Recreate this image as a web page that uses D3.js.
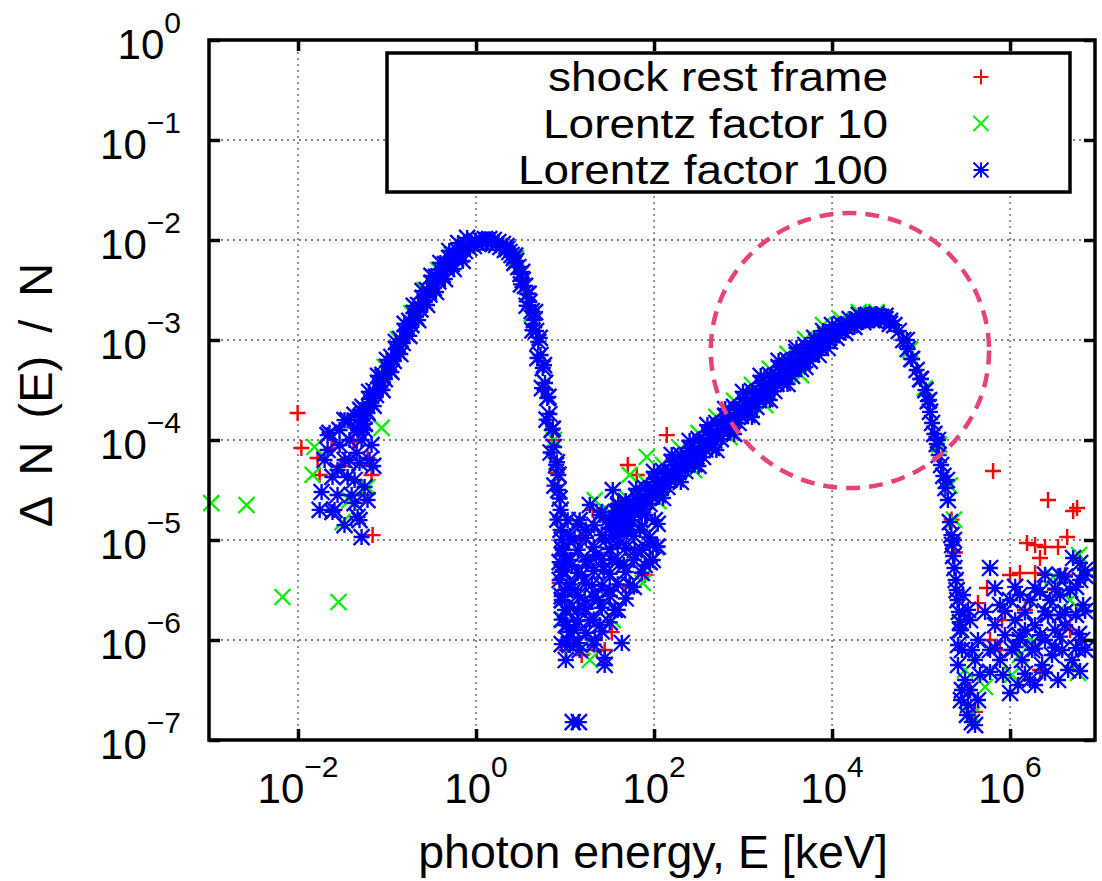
<!DOCTYPE html>
<html>
<head>
<meta charset="utf-8">
<script src="https://cdn.jsdelivr.net/npm/d3@7"></script>
<style>
  body { margin: 0; background: #fff; }
  svg { display: block; font-family: "Liberation Sans", Arial, Helvetica, sans-serif; }
</style>
</head>
<body>
<svg id="chart"></svg>
<script>
/* photon energy E [keV], Delta N(E)/N */

/* shock rest frame (red +) */
var shockRestFrame = [
  // low energy tail
  [9.9e-3, 1.86e-4], [1.09e-2, 8.32e-5], [1.66e-2, 6.61e-5], [1.75e-2, 4.47e-5], [2.38e-2, 8.32e-5],
  [3.0e-2, 5.5e-5], [4.2e-2, 9.5e-5], [5.5e-2, 2.8e-5], [6.04e-2, 6.61e-5], [6.70e-2, 4.47e-5],
  [6.89e-2, 1.12e-5],
  // thermal peak
  [8.5e-2, 3.2e-4], [0.19, 1.5e-3], [0.63, 6.9e-3], [3.3, 3.9e-3], [6.0, 3.2e-4], [7.3, 1.0e-4],
  [8.0, 4.7e-5], [9.3, 1.2e-5],
  // dip
  [139, 1.12e-4], [50.7, 5.62e-5], [64.0, 4.47e-5], [41.2, 2.40e-5], [20.5, 2.00e-5], [78.7, 4.47e-6],
  [53.3, 3.39e-6], [33.5, 1.20e-6], [10.4, 7.94e-7], [15.4, 7.08e-7], [22.7, 7.94e-7], [27.9, 7.94e-7],
  [8.71, 3.72e-6], [14.6, 1.07e-5],
  // Compton bump
  [200, 5.2e-5], [2000, 3.2e-4], [1.5e4, 1.25e-3], [2.2e5, 1.6e-5], [2.4e5, 7.5e-6],
  // high energy tail
  [6.44e5, 4.90e-5], [2.67e6, 2.51e-5], [5.11e6, 1.95e-5], [5.66e6, 2.09e-5], [4.38e6, 1.07e-5],
  [1.55e6, 9.33e-6], [1.91e6, 8.91e-6], [2.47e6, 8.51e-6], [3.46e6, 8.51e-6], [2.17e6, 6.61e-6],
  [1.00e6, 4.47e-6], [1.29e6, 4.68e-6], [1.91e6, 4.68e-6], [5.51e5, 3.31e-6], [4.36e5, 2.34e-6],
  [8.13e5, 1.58e-6], [5.96e5, 1.00e-6], [4.15e6, 4.47e-6], [3.21e6, 3.16e-6], [1.47e6, 2.00e-6],
  [4.72e6, 1.26e-6], [4.04e5, 1.91e-7], [3.37e5, 3.16e-7], [7.71e5, 7.94e-7], [2.17e6, 5.01e-7]
];

/* Lorentz factor 10 (green x) */
var lorentzFactor10 = [
  // low energy tail
  [1.06e-3, 2.34e-5], [2.64e-3, 2.24e-5], [6.70e-3, 2.69e-6], [2.85e-2, 2.40e-6], [1.53e-2, 8.51e-5],
  [1.46e-2, 4.47e-5], [3.16e-2, 1.51e-5], [6.04e-2, 3.39e-5], [8.69e-2, 1.32e-4], [3.79e-2, 2.51e-5],
  // thermal peak
  [9.44e-2, 5.37e-4], [0.133, 1.02e-3], [0.188, 1.86e-3], [0.266, 3.16e-3], [0.376, 5.01e-3],
  [0.531, 7.08e-3], [0.75, 8.91e-3], [2.82, 6.61e-3], [4.22, 1.82e-3], [5.96, 3.72e-4],
  [7.5, 1.0e-4], [8.41, 4.47e-5],
  // dip
  [21.6, 2.51e-5], [82.8, 6.76e-5], [53.3, 4.47e-5], [74.6, 3.72e-6], [34.4, 1.58e-6], [12.2, 8.51e-7],
  [19.0, 6.31e-7], [15.8, 8.51e-7], [41.2, 2.00e-5], [9.5, 1.6e-6],
  // Compton bump
  [31.6, 1.91e-5], [50.1, 2.63e-5], [79.4, 3.81e-5], [126, 5.64e-5], [200, 8.14e-5], [316, 1.17e-4],
  [501, 1.70e-4], [794, 2.46e-4], [1260, 3.55e-4], [2000, 5.14e-4], [3160, 7.26e-4], [5010, 1.02e-3],
  [7940, 1.41e-3], [1.26e4, 1.60e-3], [2.0e4, 1.90e-3], [3.16e4, 1.90e-3],
  [44.7, 1.17e-5], [112, 2.45e-5], [282, 5.0e-5], [708, 1.07e-4], [1780, 2.23e-4], [4470, 4.46e-4],
  [7.5e4, 8.0e-4], [1.1e5, 3.3e-4], [1.6e5, 9.0e-5], [2.1e5, 3.5e-5], [2.35e5, 1.6e-5],
  // high energy tail
  [3.04e6, 4.27e-6], [1.05e6, 4.47e-7], [5.24e5, 3.39e-7], [5.81e6, 4.68e-7], [2.74e5, 1.48e-6],
  [2.82e6, 2.51e-6], [1.68e6, 1.00e-6], [3.12e5, 5.01e-7], [3.73e5, 1.78e-7], [4.72e6, 2.51e-6],
  [1.29e6, 7.08e-7], [5.96e6, 7.08e-6]
];

/* Lorentz factor 100 (blue *), thermal peak */
var lorentz100Thermal = [
  [5.01e-2, 1.70e-4], [5.62e-2, 2.04e-4], [6.31e-2, 2.57e-4], [7.08e-2, 3.09e-4], [7.94e-2, 3.72e-4],
  [8.91e-2, 4.47e-4], [0.100, 5.37e-4], [0.112, 6.76e-4], [0.126, 8.13e-4], [0.141, 1.02e-3],
  [0.158, 1.23e-3], [0.178, 1.55e-3], [0.200, 1.86e-3], [0.224, 2.24e-3], [0.251, 2.63e-3],
  [0.282, 3.16e-3], [0.316, 3.72e-3], [0.355, 4.27e-3], [0.398, 5.01e-3], [0.447, 5.75e-3],
  [0.501, 6.61e-3], [0.562, 7.08e-3], [0.631, 7.76e-3], [0.708, 8.51e-3], [0.794, 8.91e-3],
  [0.891, 9.33e-3], [1.00, 9.77e-3], [1.12, 1.00e-2], [1.26, 1.02e-2], [1.41, 1.02e-2],
  [1.58, 1.00e-2], [1.78, 9.55e-3], [2.00, 9.12e-3],
  [4.73e-2, 1.25e-4], [5.31e-2, 1.55e-4], [5.96e-2, 1.91e-4], [6.68e-2, 2.34e-4], [7.50e-2, 2.82e-4],
  [8.41e-2, 3.39e-4], [9.44e-2, 4.07e-4], [0.106, 5.01e-4], [0.119, 6.17e-4], [0.133, 7.59e-4],
  [0.150, 9.33e-4], [0.168, 1.15e-3], [0.188, 1.41e-3], [0.211, 1.70e-3], [0.237, 2.02e-3],
  [0.266, 2.40e-3], [0.299, 2.85e-3], [0.335, 3.31e-3], [0.376, 3.85e-3], [0.422, 4.47e-3],
  [0.473, 5.13e-3], [0.531, 5.75e-3], [0.596, 6.46e-3], [0.668, 7.08e-3], [0.750, 7.76e-3],
  [0.841, 8.32e-3], [0.944, 8.71e-3], [1.06, 9.12e-3], [1.19, 9.33e-3], [1.33, 9.33e-3],
  [1.50, 9.33e-3], [1.68, 8.91e-3], [1.88, 8.51e-3], [2.11, 7.94e-3],
  [5.01e-2, 2.00e-4], [6.31e-2, 3.02e-4], [7.94e-2, 4.37e-4], [0.100, 6.31e-4], [0.126, 9.55e-4],
  [0.158, 1.45e-3], [0.200, 2.19e-3], [0.251, 3.09e-3], [0.316, 4.37e-3], [0.398, 5.89e-3],
  [0.501, 7.76e-3], [0.631, 9.33e-3], [0.794, 1.05e-2],
  [5.62e-2, 1.45e-4], [7.08e-2, 2.19e-4], [8.91e-2, 3.16e-4], [0.112, 4.79e-4], [0.141, 7.24e-4],
  [0.178, 1.10e-3], [0.224, 1.58e-3], [0.282, 2.24e-3], [0.355, 3.02e-3], [0.447, 4.07e-3],
  [0.562, 5.13e-3], [0.708, 6.17e-3],
  [2.24, 8.13e-3], [2.37, 7.59e-3], [2.51, 7.08e-3], [2.66, 6.61e-3], [2.82, 6.17e-3],
  [2.99, 5.37e-3], [3.16, 4.57e-3], [3.35, 3.98e-3], [3.55, 3.47e-3], [3.76, 2.88e-3],
  [3.98, 2.40e-3], [4.22, 1.95e-3], [4.47, 1.58e-3], [4.73, 1.23e-3], [5.01, 9.55e-4],
  [5.31, 7.08e-4], [5.62, 5.25e-4], [5.96, 3.72e-4], [6.31, 2.63e-4], [6.68, 1.82e-4],
  [7.08, 1.26e-4], [7.50, 8.51e-5], [7.94, 5.62e-5], [8.41, 4.47e-5], [8.41, 3.16e-5],
  [8.91, 2.00e-5], [8.91, 1.26e-5], [9.44, 7.94e-6], [9.44, 5.01e-6], [10.0, 3.16e-6],
  [10.0, 2.00e-6], [10.6, 1.41e-6], [10.6, 1.00e-6],
  [2.75, 7.0e-3], [3.3, 4.8e-3], [3.9, 2.9e-3], [4.6, 1.9e-3], [5.2, 1.05e-3], [5.8, 5.6e-4],
  [6.5, 2.7e-4], [7.3, 1.3e-4], [8.1, 6.0e-5], [8.7, 2.6e-5], [9.2, 1.0e-5],
  [2.2, 8.7e-3], [2.7, 5.9e-3], [3.2, 3.6e-3], [3.7, 2.2e-3], [4.3, 1.25e-3], [4.9, 6.6e-4],
  [5.5, 3.3e-4], [6.2, 1.6e-4], [6.9, 7.5e-5], [7.6, 3.5e-5], [8.2, 1.6e-5], [8.7, 6.0e-6],
  [9.3, 2.5e-6]
];

/* Lorentz factor 100 (blue *), Compton bump */
var lorentz100Compton = [
  [31.6, 1.32e-5], [35.5, 1.41e-5], [39.8, 1.55e-5], [44.7, 1.70e-5], [50.1, 1.82e-5], [56.2, 2.00e-5],
  [63.1, 2.19e-5], [70.8, 2.40e-5], [79.4, 2.63e-5], [89.1, 2.88e-5], [100, 3.24e-5], [112, 3.55e-5],
  [126, 3.89e-5], [141, 4.27e-5], [158, 4.79e-5], [178, 5.13e-5], [200, 5.62e-5], [224, 6.17e-5],
  [251, 6.61e-5], [282, 7.24e-5], [316, 8.13e-5], [355, 8.51e-5], [398, 9.55e-5], [447, 1.05e-4],
  [501, 1.18e-4], [562, 1.29e-4], [631, 1.38e-4], [708, 1.55e-4], [794, 1.70e-4], [891, 1.86e-4],
  [1000, 2.04e-4], [1120, 2.24e-4], [1260, 2.45e-4], [1410, 2.69e-4], [1580, 2.95e-4], [1780, 3.24e-4],
  [2000, 3.55e-4], [2240, 3.89e-4], [2510, 4.27e-4], [2820, 4.68e-4], [3160, 5.01e-4], [3550, 5.50e-4],
  [3980, 6.03e-4], [4470, 6.46e-4], [5010, 7.08e-4], [5620, 7.76e-4], [6310, 8.32e-4], [7080, 8.91e-4],
  [7940, 9.77e-4], [8910, 1.05e-3], [1.00e4, 1.12e-3], [1.12e4, 1.20e-3], [1.26e4, 1.26e-3],
  [1.41e4, 1.35e-3], [1.58e4, 1.41e-3], [1.78e4, 1.51e-3], [2.00e4, 1.58e-3], [2.24e4, 1.62e-3],
  [2.51e4, 1.66e-3], [2.82e4, 1.70e-3], [3.16e4, 1.70e-3], [3.55e4, 1.70e-3], [3.98e4, 1.62e-3],
  [4.47e4, 1.55e-3], [5.01e4, 1.41e-3], [5.62e4, 1.23e-3], [6.31e4, 1.00e-3], [7.08e4, 8.13e-4],
  [7.94e4, 6.46e-4], [8.91e4, 5.01e-4], [1.00e5, 4.07e-4], [1.12e5, 3.16e-4], [1.19e5, 2.45e-4],
  [1.26e5, 1.91e-4], [1.33e5, 1.48e-4], [1.41e5, 1.15e-4], [1.50e5, 9.12e-5], [1.58e5, 7.08e-5],
  [1.68e5, 5.62e-5], [1.78e5, 4.37e-5], [1.88e5, 3.31e-5], [2.00e5, 2.51e-5], [2.11e5, 1.51e-5],
  [2.19e5, 1.12e-5], [2.24e5, 8.91e-6], [2.29e5, 6.92e-6], [2.37e5, 5.25e-6], [2.45e5, 3.98e-6],
  [2.51e5, 3.16e-6], [2.57e5, 2.51e-6], [2.66e5, 1.91e-6], [2.75e5, 1.51e-6], [2.82e5, 1.26e-6],
  [31.6, 1.66e-5], [39.8, 1.95e-5], [50.1, 2.29e-5], [63.1, 2.75e-5], [79.4, 3.31e-5], [100, 4.07e-5],
  [126, 4.90e-5], [158, 6.03e-5], [200, 7.08e-5], [251, 8.32e-5], [316, 1.02e-4], [398, 1.20e-4],
  [501, 1.48e-4], [631, 1.74e-4], [794, 2.14e-4], [1000, 2.57e-4], [1260, 3.09e-4], [1580, 3.72e-4],
  [2000, 4.47e-4], [2510, 5.37e-4], [3160, 6.31e-4], [3980, 7.59e-4], [5010, 8.91e-4], [6310, 1.05e-3],
  [7940, 1.23e-3], [1.00e4, 1.41e-3], [1.26e4, 1.45e-3], [1.58e4, 1.62e-3], [2.00e4, 1.78e-3],
  [2.51e4, 1.78e-3], [3.16e4, 1.82e-3], [3.98e4, 1.74e-3],
  [35.5, 1.12e-5], [44.7, 1.35e-5], [56.2, 1.58e-5], [70.8, 1.91e-5], [89.1, 2.29e-5], [112, 2.82e-5],
  [141, 3.39e-5], [178, 4.07e-5], [224, 4.90e-5], [282, 5.75e-5], [355, 6.76e-5], [447, 8.32e-5],
  [562, 1.02e-4], [708, 1.23e-4], [891, 1.48e-4], [1120, 1.78e-4], [1410, 2.14e-4], [1780, 2.57e-4],
  [2240, 3.09e-4], [2820, 3.72e-4], [3550, 4.37e-4], [4470, 5.13e-4], [5620, 6.17e-4], [7080, 7.08e-4],
  [8910, 8.32e-4], [1.12e4, 1.05e-3], [1.41e4, 1.18e-3], [1.78e4, 1.35e-3], [2.24e4, 1.51e-3],
  [2.82e4, 1.58e-3], [3.55e4, 1.58e-3], [4.47e4, 1.45e-3],
  [33.5, 1.53e-5], [42.2, 1.82e-5], [53.1, 2.14e-5], [66.8, 2.57e-5], [84.1, 3.09e-5], [106, 3.80e-5],
  [133, 4.57e-5], [168, 5.56e-5], [211, 6.61e-5], [266, 7.76e-5], [335, 9.33e-5], [422, 1.12e-4],
  [531, 1.38e-4], [668, 1.64e-4], [841, 2.00e-4], [1060, 2.40e-4], [1330, 2.88e-4], [1680, 3.47e-4],
  [2110, 4.17e-4], [2660, 5.01e-4], [3350, 5.89e-4], [4220, 7.00e-4], [5310, 8.32e-4], [6680, 9.66e-4],
  [8410, 1.13e-3],
  [37.6, 1.32e-5], [47.3, 1.58e-5], [59.6, 1.86e-5], [75.0, 2.24e-5], [94.4, 2.72e-5], [119, 3.31e-5],
  [150, 4.02e-5], [188, 4.79e-5], [237, 5.69e-5], [299, 6.84e-5], [376, 8.04e-5], [473, 9.89e-5],
  [596, 1.19e-4], [750, 1.45e-4], [944, 1.74e-4], [1190, 2.09e-4], [1500, 2.51e-4], [1880, 3.02e-4],
  [2370, 3.63e-4], [2990, 4.32e-4], [3760, 5.13e-4], [4730, 6.03e-4], [5960, 7.16e-4], [7500, 8.32e-4],
  [9440, 9.66e-4],
  [39.8, 2.29e-5], [63.1, 3.24e-5], [100, 4.79e-5], [158, 7.08e-5], [251, 9.77e-5], [398, 1.41e-4],
  [631, 2.04e-4], [1000, 3.02e-4], [1580, 4.37e-4], [2510, 6.17e-4], [3980, 8.32e-4],
  [50.1, 1.23e-5], [79.4, 1.78e-5], [126, 2.63e-5], [200, 3.80e-5], [316, 5.50e-5], [501, 7.94e-5],
  [794, 1.15e-4], [1260, 1.70e-4], [2000, 2.51e-4], [3160, 3.63e-4], [5010, 5.37e-4],
  [6.92e4, 1.00e-3], [7.76e4, 6.46e-4], [9.77e4, 4.07e-4], [1.23e5, 2.51e-4], [1.55e5, 1.00e-4],
  [1.95e5, 3.98e-5], [2.34e5, 1.00e-5]
];

/* Lorentz factor 100 (blue *), scattered points */
var lorentz100Scatter = [
  // low energy tail
  [2.15e-2, 1.12e-4], [1.84e-2, 3.02e-5], [1.75e-2, 2.00e-5], [2.44e-2, 1.91e-5], [4.91e-2, 1.58e-5],
  [5.18e-2, 1.07e-5], [3.33e-2, 1.58e-4], [4.32e-2, 2.34e-5], [3.61e-2, 4.27e-5], [4.91e-2, 5.89e-5],
  [2.57e-2, 2.00e-5], [4.67e-2, 1.70e-5], [2.44e-2, 4.27e-5], [3.61e-2, 1.58e-4], [5.31e-2, 2.14e-4],
  [8.91e-2, 4.27e-4], [4.55e-2, 7.41e-5], [6.37e-2, 6.31e-5], [3.79e-2, 6.31e-5], [2.93e-2, 8.91e-5],
  [3.79e-2, 1.00e-4], [5.60e-2, 1.26e-4], [6.70e-2, 8.91e-5], [3.33e-2, 6.31e-5], [4.32e-2, 3.98e-5],
  [2.78e-2, 2.82e-5], [5.60e-2, 3.39e-5], [2.26e-2, 1.18e-4], [4.55e-2, 1.32e-4], [6.04e-2, 1.86e-4],
  [1.99e-2, 6.31e-5], [2.78e-2, 5.01e-5], [4.0e-2, 2.82e-5], [3.33e-2, 1.41e-5], [6.04e-2, 2.51e-5],
  [7.0e-2, 5.5e-5], [2.93e-2, 1.26e-4], [4.32e-2, 1.78e-4], [5.18e-2, 1.00e-4], [2.15e-2, 7.94e-5],
  // dip
  [9.18, 2.51e-6], [10.2, 1.41e-6], [11.3, 8.91e-7], [12.5, 1.26e-6], [13.9, 2.00e-6], [12.8, 3.16e-6],
  [15.4, 4.47e-6], [16.6, 2.51e-6], [19.0, 1.58e-6], [21.6, 1.00e-6], [24.5, 1.41e-6], [23.3, 2.51e-6],
  [20.0, 3.55e-6], [18.0, 6.31e-6], [22.1, 7.08e-6], [27.2, 5.01e-6], [31.8, 3.16e-6], [36.2, 2.00e-6],
  [33.5, 6.31e-6], [28.6, 1.00e-5], [39.1, 8.91e-6], [45.7, 5.62e-6], [53.3, 3.55e-6], [49.3, 1.20e-5],
  [60.7, 7.94e-6], [69.2, 1.26e-5], [78.7, 5.62e-6], [89.5, 8.91e-6], [102, 1.58e-5], [43.4, 9.33e-7],
  [27.9, 6.61e-7], [96.8, 6.31e-6], [107, 8.51e-6], [34.4, 3.16e-5], [14.6, 7.94e-7], [10.2, 6.31e-7],
  [8.71, 3.98e-6], [11.9, 5.62e-6], [17.1, 1.26e-5], [24.5, 1.78e-5], [12.8, 1.00e-5], [10.7, 1.58e-5],
  [27.9, 5.62e-7], [12.2, 1.51e-7], [14.3, 1.51e-7], [9.9, 6.31e-6], [14.6, 1.58e-5], [19.0, 2.24e-5],
  [41.2, 1.41e-5], [56.2, 2.00e-5], [78.7, 2.51e-5],
  [48.1, 2.45e-5], [39.5, 2.2e-5], [25.8, 1.91e-5], [38.5, 1.85e-5], [59.2, 1.95e-5],
  [13.9, 1.45e-5], [21.3, 1.40e-5], [31.8, 1.50e-5], [48.1, 1.45e-5], [72.8, 1.38e-5], [110, 1.45e-5],
  [11.3, 1.10e-5], [17.1, 1.05e-5], [25.8, 1.12e-5], [39.1, 1.08e-5], [59.2, 1.10e-5], [89.5, 1.06e-5],
  [9.18, 8.32e-6], [13.9, 8.0e-6], [21.0, 8.5e-6], [31.8, 8.1e-6], [48.1, 8.32e-6], [72.8, 8.0e-6],
  [110, 8.6e-6], [11.3, 6.3e-6], [17.1, 6.1e-6], [25.8, 6.4e-6], [39.1, 6.2e-6], [59.2, 6.3e-6],
  [89.5, 6.0e-6], [9.18, 4.8e-6], [13.9, 4.7e-6], [21.0, 4.9e-6], [31.8, 4.6e-6], [48.1, 4.8e-6],
  [72.8, 4.7e-6], [11.3, 3.6e-6], [17.1, 3.7e-6], [25.8, 3.5e-6], [39.1, 3.6e-6], [59.2, 3.4e-6],
  [9.18, 2.75e-6], [13.9, 2.8e-6], [21.0, 2.7e-6], [31.8, 2.75e-6], [48.1, 2.6e-6],
  [11.3, 2.1e-6], [17.1, 2.05e-6], [25.8, 2.1e-6], [39.1, 2.0e-6],
  [9.18, 1.6e-6], [13.9, 1.55e-6], [21.0, 1.6e-6], [31.8, 1.5e-6],
  [11.3, 1.2e-6], [17.1, 1.18e-6], [25.8, 1.22e-6], [9.18, 9.1e-7], [13.9, 9.3e-7], [21.0, 9.0e-7],
  // high energy tail
  [2.74e5, 1.26e-6], [2.88e5, 7.94e-7], [2.60e5, 5.62e-7], [3.12e5, 3.98e-7], [2.81e5, 2.51e-7],
  [3.28e5, 1.78e-7], [3.73e5, 1.51e-7], [4.04e5, 1.41e-7], [3.55e5, 3.16e-7], [4.04e5, 6.31e-7],
  [4.36e5, 1.00e-6], [3.37e5, 2.00e-6], [5.96e5, 5.25e-6], [7.71e5, 2.24e-6], [1.00e6, 2.51e-6],
  [1.29e6, 2.82e-6], [1.68e6, 2.51e-6], [2.17e6, 3.02e-6], [2.82e6, 2.51e-6], [3.65e6, 2.82e-6],
  [4.72e6, 3.16e-6], [6.12e6, 3.98e-6], [5.11e6, 6.61e-6], [6.12e6, 5.89e-6], [6.97e6, 5.01e-6],
  [6.78e5, 1.41e-6], [8.77e5, 1.12e-6], [1.14e6, 1.58e-6], [1.47e6, 1.26e-6], [1.91e6, 1.41e-6],
  [2.47e6, 1.00e-6], [3.21e6, 1.26e-6], [4.15e6, 1.41e-6], [5.51e6, 1.78e-6], [6.62e6, 2.24e-6],
  [5.96e5, 7.94e-7], [7.71e5, 6.31e-7], [1.05e6, 7.94e-7], [1.36e6, 6.31e-7], [1.77e6, 7.94e-7],
  [2.29e6, 5.62e-7], [2.96e6, 7.08e-7], [3.84e6, 7.94e-7], [4.98e6, 6.31e-7], [6.46e6, 1.00e-6],
  [8.34e5, 4.47e-7], [1.23e6, 3.55e-7], [1.68e6, 3.98e-7], [3.46e6, 3.98e-7], [4.49e6, 5.01e-7],
  [1.00e6, 2.95e-7], [1.91e6, 3.55e-7], [3.65e6, 1.78e-6], [2.67e6, 1.78e-6], [1.29e6, 1.00e-6],
  [5.24e5, 1.91e-6], [8.77e5, 1.95e-6], [1.47e6, 1.88e-6], [2.47e6, 1.93e-6], [4.15e6, 1.90e-6],
  [6.97e6, 1.95e-6], [6.78e5, 8.3e-7], [1.14e6, 8.5e-7], [1.91e6, 8.2e-7], [3.21e6, 8.4e-7],
  [5.51e6, 8.3e-7], [6.97e6, 8.0e-7], [6.78e5, 3.3e-6], [1.14e6, 3.4e-6], [1.91e6, 3.3e-6],
  [3.21e6, 3.25e-6], [5.51e6, 3.4e-6], [3.65e6, 4.4e-6], [4.15e6, 4.3e-6], [6.97e6, 4.4e-6],
  [2.47e6, 4.5e-6], [5.96e5, 4.8e-7], [2.47e6, 4.7e-7], [6.12e6, 4.9e-7], [1.47e6, 4.6e-7],
  [1.29e6, 1.1e-6], [2.17e6, 1.12e-6], [3.65e6, 1.08e-6], [5.96e6, 1.15e-6],
  [2.96e5, 2.82e-6], [3.55e5, 1.58e-6], [2.60e5, 8.91e-7], [3.73e5, 7.94e-7], [2.88e5, 3.16e-7],
  [4.36e5, 2.51e-7], [3.37e5, 2.24e-7], [4.59e5, 4.47e-7]
];

var legendLabels = ["shock rest frame", "Lorentz factor 10", "Lorentz factor 100"];
var legendWidths = [340, 345, 370];
var seriesColors = ["#ff0000", "#00ee00", "#0000ff"];

var xTicks = [1e-2, 1e0, 1e2, 1e4, 1e6];
var yTicks = [1e-7, 1e-6, 1e-5, 1e-4, 1e-3, 1e-2, 1e-1, 1e0];

/* dashed ring around the Compton bump: E range and N range it spans */
var ringE = [434, 5.81e5];
var ringN = [3.31e-5, 1.86e-2];

var width = 1102;
var height = 881;
var plot = { left: 209, right: 1095, top: 40, bottom: 740 };

var svg = d3.select("#chart").attr("width", width).attr("height", height);

var xScale = d3.scaleLog().domain([1e-3, 9e6]).range([plot.left, plot.right]);
var yScale = d3.scaleLog().domain([1e-7, 1]).range([plot.bottom, plot.top]);

/* grid */
var grid = svg.append("g")
  .attr("stroke", "#555")
  .attr("stroke-width", 1.3)
  .attr("stroke-dasharray", "2,4");

grid.selectAll("line.gx")
  .data(xTicks)
  .enter()
  .append("line")
  .attr("x1", (d) => xScale(d))
  .attr("x2", (d) => xScale(d))
  .attr("y1", plot.top)
  .attr("y2", plot.bottom);

grid.selectAll("line.gy")
  .data(yTicks.slice(1, -1))
  .enter()
  .append("line")
  .attr("x1", plot.left)
  .attr("x2", plot.right)
  .attr("y1", (d) => yScale(d))
  .attr("y2", (d) => yScale(d));

/* marker shapes like gnuplot point types 1, 2, 3 */
var plusType = {
  draw: function (ctx, size) {
    var h = Math.sqrt(size) / 2;
    ctx.moveTo(-h, 0); ctx.lineTo(h, 0);
    ctx.moveTo(0, -h); ctx.lineTo(0, h);
  }
};
var crossType = {
  draw: function (ctx, size) {
    var h = Math.sqrt(size) / 2;
    ctx.moveTo(-h, -h); ctx.lineTo(h, h);
    ctx.moveTo(-h, h); ctx.lineTo(h, -h);
  }
};
var starType = {
  draw: function (ctx, size) {
    var h = Math.sqrt(size) / 2;
    ctx.moveTo(-h, 0); ctx.lineTo(h, 0);
    ctx.moveTo(0, -h); ctx.lineTo(0, h);
    ctx.moveTo(-h, -h); ctx.lineTo(h, h);
    ctx.moveTo(-h, h); ctx.lineTo(h, -h);
  }
};
var markerTypes = [plusType, crossType, starType];

var series = [
  shockRestFrame,
  lorentzFactor10,
  lorentz100Thermal.concat(lorentz100Compton, lorentz100Scatter)
];

series.forEach((points, i) => {
  svg.append("g")
    .selectAll("path")
    .data(points)
    .enter()
    .append("path")
    .attr("d", d3.symbol().type(markerTypes[i]).size(256))
    .attr("transform", (d) => "translate(" + xScale(d[0]) + "," + yScale(d[1]) + ")")
    .attr("fill", "none")
    .attr("stroke", seriesColors[i])
    .attr("stroke-width", 2.4);
});

/* dashed ring */
svg.append("ellipse")
  .attr("cx", (xScale(ringE[0]) + xScale(ringE[1])) / 2)
  .attr("cy", (yScale(ringN[0]) + yScale(ringN[1])) / 2)
  .attr("rx", (xScale(ringE[1]) - xScale(ringE[0])) / 2)
  .attr("ry", (yScale(ringN[0]) - yScale(ringN[1])) / 2)
  .attr("fill", "none")
  .attr("stroke", "#e6437a")
  .attr("stroke-width", 4.5)
  .attr("stroke-dasharray", "14,9");

/* axes: inward ticks on all four sides */
function tidy(g) {
  g.select(".domain").remove();
  g.selectAll(".tick line").attr("stroke", "#000").attr("stroke-width", 3.5);
}
svg.append("g").attr("transform", "translate(0," + plot.bottom + ")")
  .call(d3.axisBottom(xScale).tickValues(xTicks).tickSize(-11).tickFormat("")).call(tidy);
svg.append("g").attr("transform", "translate(0," + plot.top + ")")
  .call(d3.axisTop(xScale).tickValues(xTicks).tickSize(-11).tickFormat("")).call(tidy);
svg.append("g").attr("transform", "translate(" + plot.left + ",0)")
  .call(d3.axisLeft(yScale).tickValues(yTicks).tickSize(-11).tickFormat("")).call(tidy);
svg.append("g").attr("transform", "translate(" + plot.right + ",0)")
  .call(d3.axisRight(yScale).tickValues(yTicks).tickSize(-11).tickFormat("")).call(tidy);

svg.append("rect")
  .attr("x", plot.left)
  .attr("y", plot.top)
  .attr("width", plot.right - plot.left)
  .attr("height", plot.bottom - plot.top)
  .attr("fill", "none")
  .attr("stroke", "#000")
  .attr("stroke-width", 3.5);

/* power-of-ten tick labels */
function powerLabel(text, d) {
  var e = Math.round(Math.log10(d));
  text.append("tspan").text("10");
  text.append("tspan")
    .attr("dy", -26)
    .attr("font-size", 30)
    .text(e < 0 ? "\u2212" + (-e) : String(e));
}

svg.selectAll("text.ylab")
  .data(yTicks)
  .enter()
  .append("text")
  .attr("x", 181)
  .attr("y", (d) => yScale(d) + 19)
  .attr("text-anchor", "end")
  .attr("font-size", 42)
  .each(function (d) { powerLabel(d3.select(this), d); });

svg.selectAll("text.xlab")
  .data(xTicks)
  .enter()
  .append("text")
  .attr("x", (d) => xScale(d))
  .attr("y", 803)
  .attr("text-anchor", "middle")
  .attr("font-size", 42)
  .each(function (d) { powerLabel(d3.select(this), d); });

/* axis titles */
svg.append("text")
  .attr("x", 653)
  .attr("y", 868)
  .attr("text-anchor", "middle")
  .attr("font-size", 46.5)
  .text("photon energy, E [keV]");

svg.append("text")
  .attr("transform", "translate(52,395) rotate(-90)")
  .attr("text-anchor", "middle")
  .attr("font-size", 47)
  .attr("word-spacing", 10)
  .text("\u0394 N (E) / N");

/* legend */
var legend = svg.append("g");
legend.append("rect")
  .attr("x", 387)
  .attr("y", 53)
  .attr("width", 683)
  .attr("height", 139)
  .attr("fill", "#fff")
  .attr("stroke", "#000")
  .attr("stroke-width", 3.5);

legendLabels.forEach((label, i) => {
  var y = 91 + i * 46.5;
  legend.append("text")
    .attr("x", 888)
    .attr("y", y)
    .attr("text-anchor", "end")
    .attr("font-size", 41.5)
    .attr("textLength", legendWidths[i])
    .attr("lengthAdjust", "spacingAndGlyphs")
    .text(label);
  legend.append("path")
    .attr("d", d3.symbol().type(markerTypes[i]).size(225))
    .attr("transform", "translate(981," + (y - 14) + ")")
    .attr("fill", "none")
    .attr("stroke", seriesColors[i])
    .attr("stroke-width", 2);
});
</script>
</body>
</html>
